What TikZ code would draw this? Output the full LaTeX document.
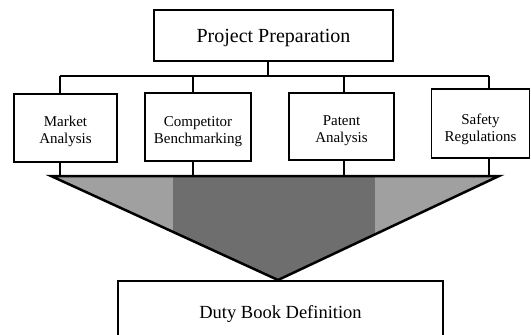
\documentclass[tikz,border=0pt]{standalone}
\usepackage{fontspec}
\setmainfont{Liberation Serif}
\definecolor{shadeLight}{HTML}{A0A0A0}
\definecolor{shadeDark}{HTML}{6E6E6E}
\begin{document}
\begin{tikzpicture}[x=1pt,y=-1pt,
  box/.style={draw=black,line width=1.9pt,fill=white,align=center,inner sep=0pt},
  small/.style={font=\fontsize{15}{17}\selectfont,align=center},
  link/.style={draw=black,line width=1.7pt}]
\useasboundingbox (0,0) rectangle (531,335);
% triangle
\coordinate (tl) at (51,176);
\coordinate (tr) at (499,176);
\coordinate (ap) at (278,280);
\begin{scope}
  \clip (tl) -- (tr) -- (ap) -- cycle;
  \fill[shadeLight] (40,170) rectangle (173,290);
  \fill[shadeDark] (173,170) rectangle (375,290);
  \fill[shadeLight] (375,170) rectangle (510,290);
\end{scope}
\draw[line width=2.5pt,line join=miter] (tl) -- (tr) -- (ap) -- cycle;
% boxes
\node[box,minimum width=239pt,minimum height=51pt,
  label={[font=\fontsize{20}{22}\selectfont,yshift=-3pt]center:Project Preparation}] (prep) at (273.5,35.5) {};
\node[box,minimum width=103pt,minimum height=68pt,
  label={[small,yshift=-3.5pt]center:Market\\Analysis}] (mkt) at (65.5,128) {};
\node[box,minimum width=106pt,minimum height=68pt,
  label={[small,yshift=-4.5pt]center:Competitor\\Benchmarking}] (comp) at (198,127) {};
\node[box,minimum width=105pt,minimum height=67pt,
  label={[small,yshift=-4.5pt]center:Patent\\Analysis}] (pat) at (341.5,126.5) {};
\node[box,minimum width=98pt,minimum height=69pt,
  label={[small,yshift=-6pt]center:Safety\\Regulations}] (saf) at (480.5,123.5) {};
\node[box,minimum width=325pt,minimum height=66pt,font=\fontsize{18.5}{21}\selectfont] (duty) at (280.5,314) {Duty Book Definition};
% bar
\coordinate (b1) at (60,76);
\coordinate (b2) at (193,76);
\coordinate (b3) at (344,76);
\coordinate (b4) at (489,76);
\coordinate (bp) at (268,76);
\coordinate (t1) at (60,176);
\coordinate (t2) at (193,176);
\coordinate (t3) at (344,176);
\coordinate (t4) at (489,176);
\draw[link] (bp |- prep.south) -- (bp);
\draw[link] (b1) -- (b4);
\draw[link] (b1) -- (b1 |- mkt.north);
\draw[link] (b2) -- (b2 |- comp.north);
\draw[link] (b3) -- (b3 |- pat.north);
\draw[link] (b4) -- (b4 |- saf.north);
\draw[link] (t1 |- mkt.south) -- (t1);
\draw[link] (t2 |- comp.south) -- (t2);
\draw[link] (t3 |- pat.south) -- (t3);
\draw[link] (t4 |- saf.south) -- (t4);
\end{tikzpicture}
\end{document}
